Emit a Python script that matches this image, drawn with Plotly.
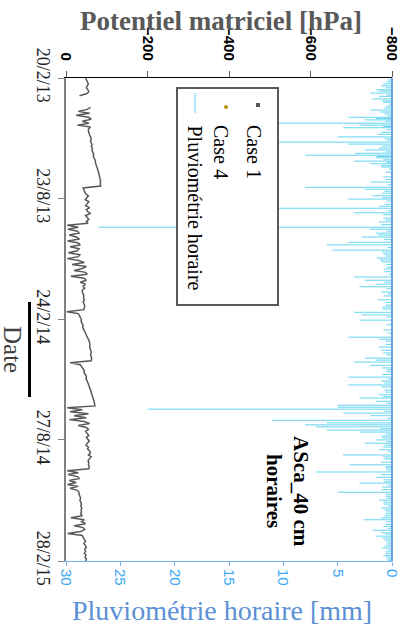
import pandas as pd
import plotly.graph_objects as go

# ---------------- data ----------------
start_date = "2013-02-20"
step_days = 3
case1_hpa = [
    -48, -50, -53, -55, -52, -50, -54, -56, -50,
    -33,
    None, None, None, None, None,
    -60, -52, -30, -58, -25, -55, -62, -40, -56, -28, -60, -55,
    -55, -56, -58, -60, -62, -60, -63, -64, -62, -65, -64, -66, -68, -67, -70, -72,
    -72, -74, -75, -77, -78, -80, -81, -82, -83, -84, -85, -84, -85,
    -42,
    -44, -46, -48, -55, -50, -47, -56, -52, -48, -58, -50, -53, -60, -48, -52, -56, -50, -54,
    -3,
    -30, -5, -28, -32, -8, -25, -33, -4, -30, -35, -10, -32, -28, -6, -34, -30, -3, -31,
    -45, -15, -50, -40, -20, -48, -52, -12, -44, -50, -35, -48, -42, -46, -40,
    -40, -42, -44, -43, -45, -42, -44, -46, -45, -44,
    -2,
    -30, -33, -35, -38, -37, -40, -42, -41, -44,
    -46, -48, -50, -53, -55, -57, -58, -59,
    -58, -60, -61, -62, -60, -62, -63, -62,
    -10,
    -35, -38, -40, -45, -44, -47, -50, -49, -52,
    -53, -55, -57, -58, -60, -62, -63, -65, -66, -68, -69, -70, -71,
    -3,
    -40, -10, -55, -20, -50, -8, -45, -58, -30,
    -50, -55, -48, -52, -56, -50, -54, -57, -52, -49, -55, -53,
    -58, -60, -55, -62, -57, -54, -56, -55, -57, -56,
    -3,
    -30, -5, -28, -33, -8,
    -25, -4, -30, -10, -28, -32,
    -32, -35, -36, -34, -37, -38, -36, -39, -37, -38, -36,
    -40, -12, -45, -38, -48, -20, -42, -46, -36, -4, -40,
    -42, -45, -48, -44, -47, -50, -46, -48, -45, -49, -47, -50, -48,
]

# rain events: days after start_date, hourly rain in mm
rain_day = [6, 12, 18, 23, 28, 32, 37, 43, 49, 55, 60, 64, 69, 72, 76, 83, 90, 98, 101, 107,
            110, 115, 118, 122, 127, 131, 136, 144, 151, 159, 167, 170, 176, 180, 185, 193, 199,
            206, 214, 220, 228, 231, 237, 243, 251, 255, 263, 269, 275, 281, 289, 296, 304, 309,
            315, 319, 327, 333, 339, 347, 353, 358, 362, 370, 377, 385, 396, 402, 411, 416, 423,
            428, 434, 439, 443, 449, 457, 463, 469, 477, 484, 489, 494, 500, 503, 506, 512, 516,
            523, 527, 530, 533, 538, 541, 547, 553, 558, 564, 568, 576, 582, 587, 591, 596, 602,
            610, 614, 619, 625, 633, 639, 645, 651, 657, 663, 669, 675, 682, 691, 695, 700, 706,
            712, 718, 724, 730, 735]
rain_mm = [0.5, 1.0, 1.5, 2.0, 1.2, 1.8, 0.8, 0.6, 2.0, 0.7, 4.0, 2.5, 12.0, 3.0, 4.5, 1.0, 5.0,
           11.0, 4.0, 1.2, 2.5, 3.4, 8.0, 1.5, 3.5, 2.0, 1.0, 0.6, 0.8, 2.0, 8.0, 2.5, 0.9, 1.8,
           4.0, 0.7, 11.0, 3.5, 0.8, 1.2, 27.0, 2.0, 1.5, 2.8, 4.0, 6.0, 5.5, 0.8, 1.4, 1.0, 0.5,
           0.7, 3.5, 2.5, 1.5, 3.0, 1.0, 0.8, 1.3, 0.6, 0.9, 3.5, 2.8, 3.0, 0.5, 0.8, 4.0, 0.6,
           1.2, 1.0, 0.5, 2.5, 3.5, 2.0, 0.9, 0.5, 4.0, 1.0, 4.0, 0.7, 1.2, 3.0, 1.5, 5.0, 5.0,
           22.5, 4.5, 2.0, 11.0, 6.0, 8.0, 7.0, 6.0, 3.0, 1.0, 1.5, 2.5, 0.8, 1.2, 4.5, 0.7, 1.0,
           3.9, 0.6, 7.0, 1.5, 0.8, 3.0, 0.9, 5.0, 0.6, 1.2, 0.8, 1.0, 0.5, 0.7, 2.6, 0.6, 1.8,
           1.0, 1.5, 0.7, 0.5, 0.9, 0.6, 0.8, 0.5]
# smaller hourly showers
rain_day_small = [3, 9, 15, 20, 26, 35, 40, 46, 52, 58, 62, 66, 74, 79, 86, 93, 95, 104, 113, 120,
                  125, 129, 134, 139, 155, 163, 173, 183, 188, 196, 203, 209, 217, 224, 234, 240,
                  247, 259, 266, 272, 278, 285, 292, 300, 312, 322, 330, 343, 350, 365, 390, 399,
                  407, 420, 431, 446, 453, 460, 466, 472, 480, 487, 497, 509, 520, 536, 544, 550,
                  556, 561, 571, 579, 594, 599, 606, 617, 622, 629, 636, 642, 648, 654, 660, 666,
                  672, 678, 685, 688, 697, 703, 709, 715, 721, 727, 732, 737]
rain_mm_small = [0.4, 0.8, 0.6, 1.2, 0.5, 0.9, 0.3, 0.7, 1.1, 0.4,
                 1.5, 0.6, 0.8, 0.5, 1.3, 0.7, 0.4, 0.9, 0.6, 1.4,
                 0.8, 0.5, 1.0, 0.3, 0.6, 0.4, 0.7, 0.9, 0.5, 1.2,
                 0.4, 0.8, 0.6, 1.0, 0.5, 1.3, 0.7, 0.4, 0.9, 0.6,
                 1.1, 0.5, 0.8, 0.3, 0.7, 0.5, 0.4, 0.6, 0.9, 0.5,
                 0.4, 1.2, 0.6, 0.8, 1.5, 0.5, 0.9, 0.4, 0.7, 1.0,
                 0.6, 0.8, 0.5, 0.7, 0.4, 1.1, 0.6, 0.9, 0.5, 0.7,
                 0.4, 0.8, 0.6, 0.5, 1.0, 0.7, 0.4, 0.9, 0.6, 0.5,
                 0.8, 0.4, 0.7, 0.6, 1.0, 0.5, 0.8, 0.4, 0.6, 0.9,
                 0.5, 0.7, 0.4, 0.6, 0.5, 0.4]

date_ticks = ["2013-02-20", "2013-08-23", "2014-02-24", "2014-08-27", "2015-02-28"]
date_labels = ["20/2/13", "23/8/13", "24/2/14", "27/8/14", "28/2/15"]
hpa_ticks = [0, -200, -400, -600, -800]
mm_ticks = [30, 25, 20, 15, 10, 5, 0]
legend_names = ["Case 1", "Case 4", "Pluviométrie horaire"]

# ---------------- build ----------------
t0 = pd.Timestamp(start_date)
case1_dates = [t0 + pd.Timedelta(days=step_days * i) for i in range(len(case1_hpa))]

rx, ry = [], []
for d, v in list(zip(rain_day_small, rain_mm_small)) + list(zip(rain_day, rain_mm)):
    dt = t0 + pd.Timedelta(days=d)
    rx += [0, v, None]
    ry += [dt, dt, None]

GRAY = "#595959"
CYAN = "#66d4f2"
SERIF = "Liberation Serif"
SANS = "Liberation Sans"

fig = go.Figure()
fig.add_trace(go.Scatter(x=rx, y=ry, mode="lines", xaxis="x2", yaxis="y",
                         line=dict(color=CYAN, width=1), showlegend=False,
                         connectgaps=False, name=legend_names[2]))
fig.add_trace(go.Scatter(x=case1_hpa, y=case1_dates, mode="lines", xaxis="x", yaxis="y",
                         line=dict(color=GRAY, width=1.5), showlegend=False,
                         connectgaps=False, name=legend_names[0]))

W, H = 410, 629
# plot area in screen pixels
L, R, T, B = 66, 392, 78, 561
pw, ph = R - L, B - T


def px(x):
    return (x - L) / pw


def py(y):
    return (B - y) / ph


fig.update_layout(
    width=W, height=H,
    margin=dict(l=L, r=W - R, t=T, b=H - B, autoexpand=False),
    paper_bgcolor="white", plot_bgcolor="white",
    showlegend=False,
    xaxis=dict(range=[0, -800], side="top", tickvals=hpa_ticks, tickangle=90,
               tickfont=dict(family=SANS, size=15, color="black", weight="bold"),
               showgrid=False, zeroline=False, showline=True, linecolor="black",
               linewidth=1, ticks="outside", ticklen=6, tickcolor=GRAY, automargin=False,
               ticklabelstandoff=5),
    xaxis2=dict(range=[30, 0], overlaying="x", side="bottom", tickvals=mm_ticks,
                tickangle=90, tickfont=dict(family=SANS, size=15, color="#3aa8f5"),
                showgrid=False, zeroline=False, showline=True, linecolor="#7ab4f0",
                linewidth=1, ticks="outside", ticklen=4, tickcolor="#7ab4f0",
                automargin=False),
    yaxis=dict(type="date", range=[date_ticks[-1], date_ticks[0]], tickvals=date_ticks,
               ticktext=date_labels, tickangle=90,
               tickfont=dict(family=SERIF, size=18, color="#222222"),
               showgrid=False, zeroline=False, showline=True, linecolor="#808080",
               linewidth=1.5, ticks="outside", ticklen=6, tickcolor="#808080",
               automargin=False),
)

shapes = [
    dict(type="line", xref="paper", yref="paper", x0=1, x1=1, y0=0, y1=1,
         line=dict(color="#6a9fe0", width=2)),
    dict(type="line", xref="paper", yref="paper", x0=px(29.5), x1=px(29.5),
         y0=py(302), y1=py(397), line=dict(color="black", width=3)),
    # legend box
    dict(type="rect", xref="paper", yref="paper", x0=px(177), x1=px(278),
         y0=py(305), y1=py(88), line=dict(color=GRAY, width=2), fillcolor="white"),
    dict(type="rect", xref="paper", yref="paper", x0=px(256), x1=px(260),
         y0=py(107), y1=py(103), line=dict(width=0), fillcolor=GRAY),
    dict(type="circle", xref="paper", yref="paper", x0=px(224), x1=px(228),
         y0=py(109), y1=py(105), line=dict(width=0), fillcolor="#b8960b"),
    dict(type="line", xref="paper", yref="paper", x0=px(195), x1=px(195),
         y0=py(113), y1=py(93), line=dict(color=CYAN, width=1)),
]
fig.update_layout(shapes=shapes)

ann = [
    dict(text="Potentiel matriciel [hPa]", x=px(221), y=py(21),
         font=dict(family=SERIF, size=27, color=GRAY, weight="bold")),
    dict(text="Pluviométrie horaire [mm]", x=px(222), y=py(610),
         font=dict(family=SERIF, size=28, color="#5b8fd6")),
    dict(text="Date", x=px(13), y=py(349), textangle=90,
         font=dict(family=SERIF, size=25, color="#404040")),
    dict(text="ASca_40 cm<br>horaires", x=px(288), y=py(491), textangle=90,
         font=dict(family=SERIF, size=21, color="black", weight="bold")),
    dict(text=legend_names[0], x=px(254), y=py(123), textangle=90, yanchor="top",
         font=dict(family=SERIF, size=20, color="black")),
    dict(text=legend_names[1], x=px(221), y=py(123), textangle=90, yanchor="top",
         font=dict(family=SERIF, size=20, color="black")),
    dict(text=legend_names[2], x=px(194), y=py(123), textangle=90, yanchor="top",
         font=dict(family=SERIF, size=20, color="black")),
]
for a in ann:
    a.setdefault("xanchor", "center")
    a.setdefault("yanchor", "middle")
    a.update(xref="paper", yref="paper", showarrow=False)
fig.update_layout(annotations=ann)

# remove the browser's default 8px body margin so the figure sits at (0, 0)
fig.write_html("out.html",
               config={"displayModeBar": False},
               post_script="document.body.style.margin='0';document.body.style.overflow='hidden';")
